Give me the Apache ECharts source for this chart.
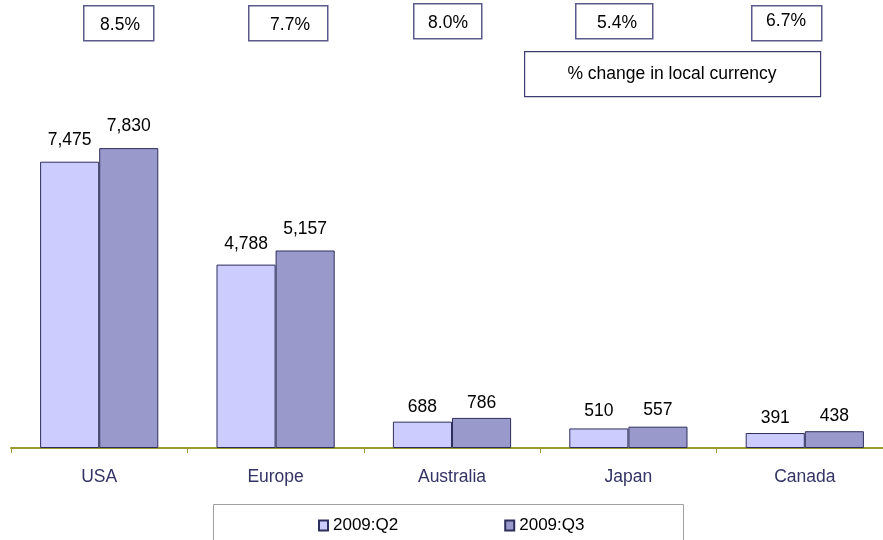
<!DOCTYPE html>
<html>
<head>
<meta charset="utf-8">
<script src="https://cdn.jsdelivr.net/npm/echarts@6/dist/echarts.min.js"></script>
<style>
  html, body { margin: 0; padding: 0; background: #fff; overflow: hidden; }
  /* plot runs a little past the right edge of the window */
  #chart { width: 893px; height: 540px; }
</style>
</head>
<body>
<div id="chart"></div>
<script>
// Regional totals by quarter
const regions = ['USA', 'Europe', 'Australia', 'Japan', 'Canada'];
const q2Values = [7475, 4788, 688, 510, 391];
const q3Values = [7830, 5157, 786, 557, 438];
const seriesNames = ['2009:Q2', '2009:Q3'];
// Quarter-on-quarter change in local currency
const pctChange = ['8.5%', '7.7%', '8.0%', '5.4%', '6.7%'];
const noteText = '% change in local currency';

// Gap (px) between each value label and the top of its bar
const q2LabelGap = [13, 11, 5, 8, 6];
const q3LabelGap = [13, 12, 6, 7, 6];

const FONT = '"Liberation Sans", Arial, sans-serif';
const FS = 17.5;
const fmt = v => v.toLocaleString('en-US');

// Boxes holding the percentage annotations (box rect + text anchor)
const pctBoxes = [
  { x: 83, y: 5, w: 70, h: 35, tx: 120, ty: 25 },
  { x: 248, y: 5, w: 79, h: 35, tx: 290, ty: 25 },
  { x: 413, y: 3, w: 68, h: 35, tx: 448, ty: 23 },
  { x: 575, y: 3, w: 77, h: 35, tx: 617, ty: 23 },
  { x: 751, y: 5, w: 70, h: 35, tx: 786, ty: 21 }
];

const graphics = [];
pctBoxes.forEach((b, i) => {
  graphics.push({
    type: 'rect', left: b.x, top: b.y,
    shape: { width: b.w, height: b.h },
    style: { fill: '#fff', stroke: '#5a5a8c', lineWidth: 1.5 }
  });
  graphics.push({
    type: 'text', x: b.tx, y: b.ty,
    style: { text: pctChange[i], fill: '#000', font: FS + 'px ' + FONT, textAlign: 'center', textVerticalAlign: 'middle' }
  });
});
graphics.push({
  type: 'rect', left: 524, top: 51,
  shape: { width: 296, height: 45 },
  style: { fill: '#fff', stroke: '#3d3d70', lineWidth: 1.2 }
});
graphics.push({
  type: 'text', x: 672, y: 74,
  style: { text: noteText, fill: '#000', font: FS + 'px ' + FONT, textAlign: 'center', textVerticalAlign: 'middle' }
});
// Legend frame
graphics.push({
  type: 'rect', left: 213, top: 504, z: 0,
  shape: { width: 470, height: 40 },
  style: { fill: '#fff', stroke: '#a0a0a0', lineWidth: 1 }
});

const labelOpt = {
  show: true, position: 'top',
  color: '#000', fontFamily: FONT, fontSize: FS,
  formatter: p => fmt(p.value)
};

const withGaps = (values, gaps) =>
  values.map((v, i) => ({ value: v, label: { distance: gaps[i] } }));

const chart = echarts.init(document.getElementById('chart'), null, { renderer: 'canvas' });
chart.setOption({
  animation: false,
  backgroundColor: '#fff',
  graphic: graphics,
  legend: {
    data: seriesNames,
    left: 313, top: 512,
    itemWidth: 9, itemHeight: 10, itemGap: 106,
    icon: 'rect',
    textStyle: { color: '#000', fontFamily: FONT, fontSize: 17 },
    z: 10
  },
  grid: { left: 11, right: 0, top: 65, height: 383 },
  xAxis: {
    type: 'category',
    data: regions,
    axisLine: { lineStyle: { color: '#9c9c2e', width: 2 } },
    axisTick: { show: true, length: 5, lineStyle: { color: '#9c9c2e', width: 1 } },
    axisLabel: { color: '#333366', fontFamily: FONT, fontSize: FS, margin: 20 }
  },
  yAxis: {
    type: 'value', min: 0, max: 10000,
    show: false, splitLine: { show: false }
  },
  series: [
    {
      name: seriesNames[0], type: 'bar', data: withGaps(q2Values, q2LabelGap),
      barGap: '0%', barCategoryGap: '33%',
      itemStyle: { color: '#ccccff', borderColor: '#2e2e5c', borderWidth: 1 },
      label: labelOpt
    },
    {
      name: seriesNames[1], type: 'bar', data: withGaps(q3Values, q3LabelGap),
      itemStyle: { color: '#9999cc', borderColor: '#2e2e5c', borderWidth: 1 },
      label: labelOpt
    }
  ]
});
</script>
</body>
</html>
